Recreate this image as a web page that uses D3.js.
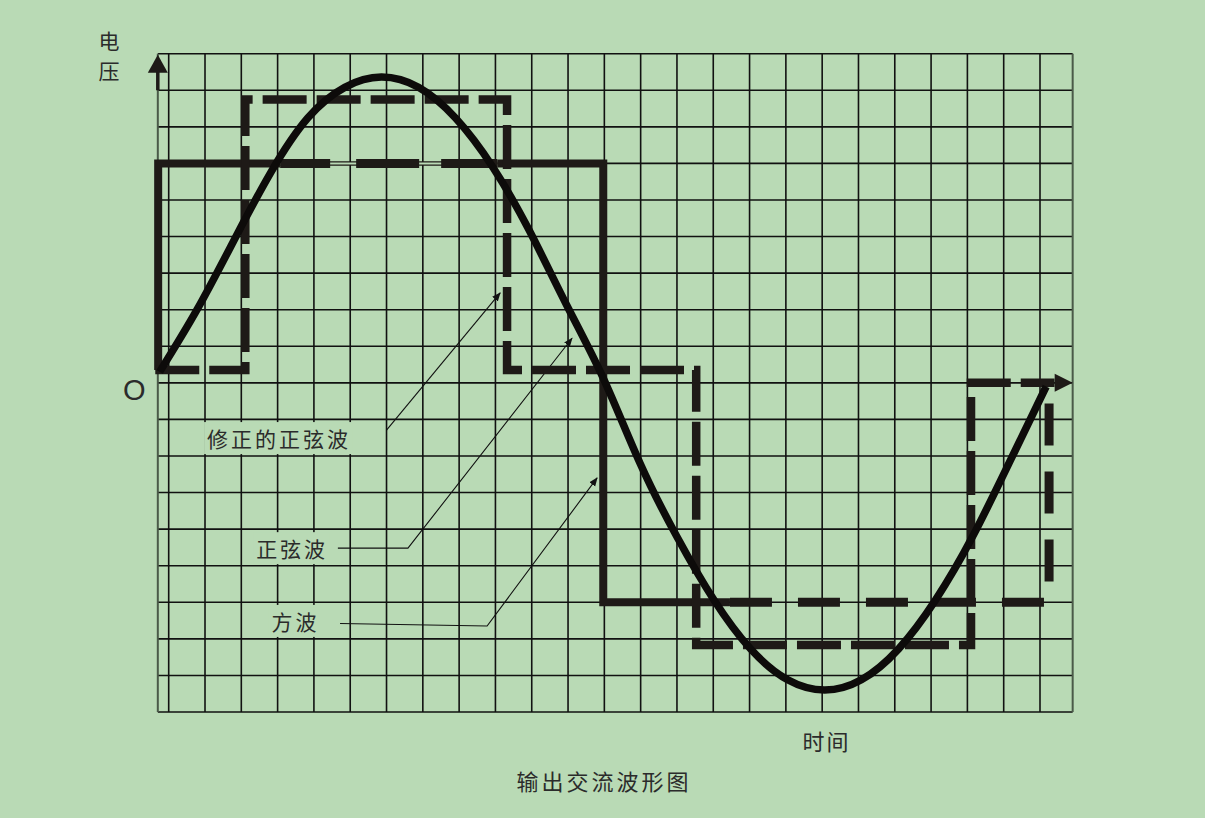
<!DOCTYPE html>
<html>
<head>
<meta charset="utf-8">
<script src="https://cdn.jsdelivr.net/npm/d3@7"></script>
<style>
  body { margin: 0; background: #b9dab5; }
  svg { display: block; }
</style>
</head>
<body>
<svg id="chart"></svg>
<script>
// ---- data (grid units: x = grid column, y = grid row, 0 = time axis)
var gridCols = d3.range(0, 25);
var gridRows = d3.range(-9, 10);
var borderCols = [-0.3, 24.9];

// sine wave
var sineT = [-0.25, 0.78, 1.8, 2.81, 3.83, 4.85, 5.86, 6.88, 7.9, 8.92, 9.93, 10.95, 11.96,
             12.98, 14.0, 15.02, 16.03, 17.05, 18.07, 19.08, 20.1, 21.12, 22.14, 23.15, 24.17];
var sineV = [0.3, 2.0, 3.9, 5.75, 7.24, 8.08, 8.36, 8.08, 7.24, 5.91, 4.17, 2.15, 0.15,
             -2.19, -4.21, -5.94, -7.28, -8.12, -8.4, -8.12, -7.28, -5.94, -4.21, -2.19, -0.1];

// square wave corners + how each segment is drawn
var squareT = [-0.29, -0.29, 3.07, 9.05, 11.97, 11.97, 15.46, 24.25, 24.25];
var squareV = [0.35, 6, 6, 6, 6, -6, -6, -6, 0];
var squareSeg = ["solid", "solid", "broken", "solid", "solid", "solid", "dashed", "dashed"];

// modified sine (dashed steps)
var modT = [-0.37, 2.11, 2.11, 9.32, 9.32, 14.53, 14.53, 22.1, 22.1, 24.4];
var modV = [0.35, 0.35, 7.75, 7.75, 0.35, 0.35, -7.17, -7.17, 0, 0];

// callouts
var labelText = ["修正的正弦波", "正弦波", "方波"];
var leaderT = [[6.0, 9.13], [4.66, 6.59, 11.11], [4.72, 8.77, 11.8]];
var leaderV = [[-1.29, 2.46], [-4.52, -4.52, 1.22], [-6.58, -6.65, -2.6]];

var yAxisLabel = ["电", "压"];
var originLabel = "O";
var xAxisLabel = "时间";
var title = "输出交流波形图";

// ---- setup
var W = 1205, H = 818;
var ink = "#1e1a17";
var bg = "#b9dab5";
var cjk = "'Noto Sans CJK SC', 'Noto Sans', sans-serif";

var svg = d3.select("svg#chart")
    .attr("width", W)
    .attr("height", H);

svg.append("rect").attr("width", W).attr("height", H).attr("fill", bg);

var x = d3.scaleLinear().domain([0, 24]).range([168.7, 1040]);
var y = d3.scaleLinear().domain([-9, 9]).range([712, 53.7]);

var line = d3.line().x(function(d) { return x(d[0]); }).y(function(d) { return y(d[1]); });

// ---- grid
var grid = svg.append("g").attr("id", "grid");
grid.selectAll("line.v").data(gridCols).enter()
    .append("line").attr("class", "v")
    .attr("x1", function(d) { return x(d); }).attr("x2", function(d) { return x(d); })
    .attr("y1", y(9)).attr("y2", y(-9))
    .style("stroke", "#111").style("stroke-width", 1.6);
grid.selectAll("line.h").data(gridRows).enter()
    .append("line").attr("class", "h")
    .attr("x1", x(borderCols[0])).attr("x2", x(borderCols[1]))
    .attr("y1", function(d) { return y(d); }).attr("y2", function(d) { return y(d); })
    .style("stroke", "#111").style("stroke-width", 1.6);
grid.selectAll("line.b").data(borderCols).enter()
    .append("line").attr("class", "b")
    .attr("x1", function(d) { return x(d); }).attr("x2", function(d) { return x(d); })
    .attr("y1", y(9)).attr("y2", y(-9))
    .style("stroke", "#4a5a48").style("stroke-width", 2);

// ---- callout labels (with a patch of background behind)
var labelPos = [[3.04, -1.51], [3.4, -4.52], [3.49, -6.51]];
var labels = svg.append("g").attr("id", "labels");
labelText.forEach(function(t, i) {
    var g = labels.append("g");
    var txt = g.append("text")
        .attr("x", x(labelPos[i][0])).attr("y", y(labelPos[i][1]))
        .attr("text-anchor", "middle").attr("dominant-baseline", "central")
        .style("font-family", cjk).style("font-size", "21px").style("letter-spacing", "3px")
        .style("fill", "#2b2b2b")
        .text(t);
    var bb = txt.node().getBBox();
    g.insert("rect", "text")
        .attr("x", bb.x - 3).attr("y", bb.y - 1)
        .attr("width", bb.width + 4).attr("height", bb.height + 2)
        .attr("fill", bg);
});

// leaders with small arrow heads
var defs = svg.append("defs");
defs.append("marker").attr("id", "tip")
    .attr("viewBox", "0 0 10 10").attr("refX", 9).attr("refY", 5)
    .attr("markerWidth", 9).attr("markerHeight", 9).attr("orient", "auto")
    .attr("markerUnits", "userSpaceOnUse")
    .append("path").attr("d", "M0,1 L10,5 L0,9 z").attr("fill", "#111");

leaderT.forEach(function(ts, i) {
    var pts = ts.map(function(t, j) { return [t, leaderV[i][j]]; });
    svg.append("path").attr("d", line(pts))
        .attr("fill", "none").style("stroke", "#111").style("stroke-width", 1.1)
        .attr("marker-end", "url(#tip)");
});

// ---- square wave
var sq = svg.append("g").attr("id", "square");
var runs = [];
squareSeg.forEach(function(s, i) {
    var a = [squareT[i], squareV[i]], b = [squareT[i + 1], squareV[i + 1]];
    if (runs.length && runs[runs.length - 1].style === s) runs[runs.length - 1].pts.push(b);
    else runs.push({ style: s, pts: [a, b] });
});
runs.forEach(function(r) {
    if (r.style === "solid") {
        sq.append("path").attr("d", line(r.pts)).attr("fill", "none")
            .style("stroke", ink).style("stroke-width", 8).style("stroke-linejoin", "miter");
    } else if (r.style === "broken") {
        // thin outline with thick pieces over it
        sq.append("path").attr("d", line(r.pts)).attr("fill", "none")
            .style("stroke", ink).style("stroke-width", 4.5);
        sq.append("path").attr("d", line(r.pts)).attr("fill", "none")
            .style("stroke", bg).style("stroke-width", 2);
        sq.append("path").attr("d", line(r.pts)).attr("fill", "none")
            .style("stroke", ink).style("stroke-width", 9)
            .style("stroke-dasharray", "50 26 63 22 60 200");
    } else {
        sq.append("path").attr("d", line(r.pts)).attr("fill", "none")
            .style("stroke", ink).style("stroke-width", 9)
            .style("stroke-dasharray", "42 26");
    }
});

// ---- modified sine
svg.append("path")
    .attr("d", line(modT.map(function(t, i) { return [t, modV[i]]; })))
    .attr("fill", "none")
    .style("stroke", ink).style("stroke-width", 8.5)
    .style("stroke-dasharray", "44 10")
    .style("stroke-linejoin", "miter");

// ---- sine
svg.append("path")
    .attr("d", line.curve(d3.curveNatural)(sineT.map(function(t, i) { return [t, sineV[i]]; })))
    .attr("fill", "none")
    .style("stroke", "#0d0b0a").style("stroke-width", 7.5)
    .style("stroke-linecap", "butt");
line.curve(d3.curveLinear);

// ---- axis arrows
var ax = svg.append("g").attr("id", "axes");
var xTip = [x(borderCols[1]), y(0)];
ax.append("path")
    .attr("d", "M" + xTip[0] + "," + xTip[1] + " L" + (xTip[0] - 18) + "," + (xTip[1] - 9) +
               " L" + (xTip[0] - 18) + "," + (xTip[1] + 9) + " Z")
    .attr("fill", ink);
var yTip = [x(borderCols[0]), y(9) + 1];
ax.append("line")
    .attr("x1", yTip[0]).attr("x2", yTip[0]).attr("y1", yTip[1] + 15).attr("y2", y(8))
    .style("stroke", ink).style("stroke-width", 3.5);
ax.append("path")
    .attr("d", "M" + yTip[0] + "," + yTip[1] + " L" + (yTip[0] - 10) + "," + (yTip[1] + 18) +
               " L" + (yTip[0] + 10) + "," + (yTip[1] + 18) + " Z")
    .attr("fill", ink);

// ---- texts
var txt = svg.append("g").style("fill", "#2b2b2b");
yAxisLabel.forEach(function(t, i) {
    txt.append("text").attr("x", 109).attr("y", 40 + i * 30)
        .attr("text-anchor", "middle").attr("dominant-baseline", "central")
        .style("font-family", cjk).style("font-size", "21px").text(t);
});
txt.append("text").attr("x", x(-0.95)).attr("y", y(-0.2))
    .attr("text-anchor", "middle").attr("dominant-baseline", "central")
    .style("font-family", "'Liberation Sans', Arial, sans-serif").style("font-size", "29px")
    .text(originLabel);
txt.append("text").attr("x", x(18.12)).attr("y", 740)
    .attr("text-anchor", "middle").attr("dominant-baseline", "central")
    .style("font-family", cjk).style("font-size", "22px").style("letter-spacing", "2px")
    .text(xAxisLabel);
txt.append("text").attr("x", 604).attr("y", 780)
    .attr("text-anchor", "middle").attr("dominant-baseline", "central")
    .style("font-family", cjk).style("font-size", "22px").style("letter-spacing", "3px")
    .text(title);
</script>
</body>
</html>
